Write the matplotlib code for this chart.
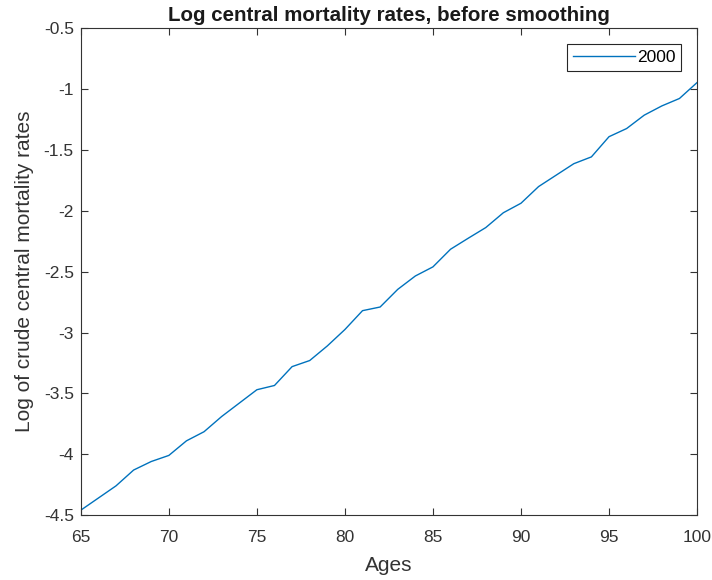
import numpy as np
import matplotlib
matplotlib.use("Agg")
import matplotlib.pyplot as plt

plt.rcParams['font.family'] = ['Liberation Sans', 'DejaVu Sans']

# Ages and log crude central mortality rates (year 2000)
ages = np.arange(65, 101)
log_mx_2000 = [-4.46, -4.36, -4.26, -4.13, -4.06, -4.01, -3.89, -3.815, -3.69,
               -3.58, -3.47, -3.435, -3.28, -3.23, -3.11, -2.975, -2.82, -2.79,
               -2.645, -2.535, -2.46, -2.315, -2.225, -2.137, -2.015, -1.937,
               -1.80, -1.706, -1.612, -1.556, -1.39, -1.323, -1.213, -1.137,
               -1.076, -0.945]

fig = plt.figure(figsize=(7.12, 5.8), dpi=100)
ax = fig.add_axes([0.1135, 0.112, 0.8655, 0.839])

ax.plot(ages, log_mx_2000, color='#0072BD', linewidth=1.0, label='2000')

ax.set_xlim(65, 100)
ax.set_ylim(-4.5, -0.5)
ax.set_xticks(np.arange(65, 101, 5))
ax.set_yticks(np.arange(-4.5, -0.49, 0.5))
ax.set_yticklabels(['-4.5', '-4', '-3.5', '-3', '-2.5', '-2', '-1.5', '-1', '-0.5'])

ax.tick_params(direction='in', top=True, right=True, length=5, width=0.8,
               labelsize=12.5, colors='#333333')
ax.tick_params(axis='x', pad=11)
ax.tick_params(axis='y', pad=5)
for s in ax.spines.values():
    s.set_color('#333333')
    s.set_linewidth(0.8)

ax.set_title('Log central mortality rates, before smoothing', fontsize=14.8,
             fontweight='bold', color='#1a1a1a', pad=5)
ax.set_xlabel('Ages', fontsize=15, color='#333333', labelpad=8)
ax.set_ylabel('Log of crude central mortality rates', fontsize=15,
              color='#333333', labelpad=7)

leg = ax.legend(loc='upper right', fontsize=12.5, handlelength=3.6,
                fancybox=False, framealpha=1, borderaxespad=0.9,
                handletextpad=0.1, borderpad=0.35)
leg.get_frame().set_edgecolor('#262626')
leg.get_frame().set_linewidth(0.8)

fig.savefig('out.png', dpi=100)
